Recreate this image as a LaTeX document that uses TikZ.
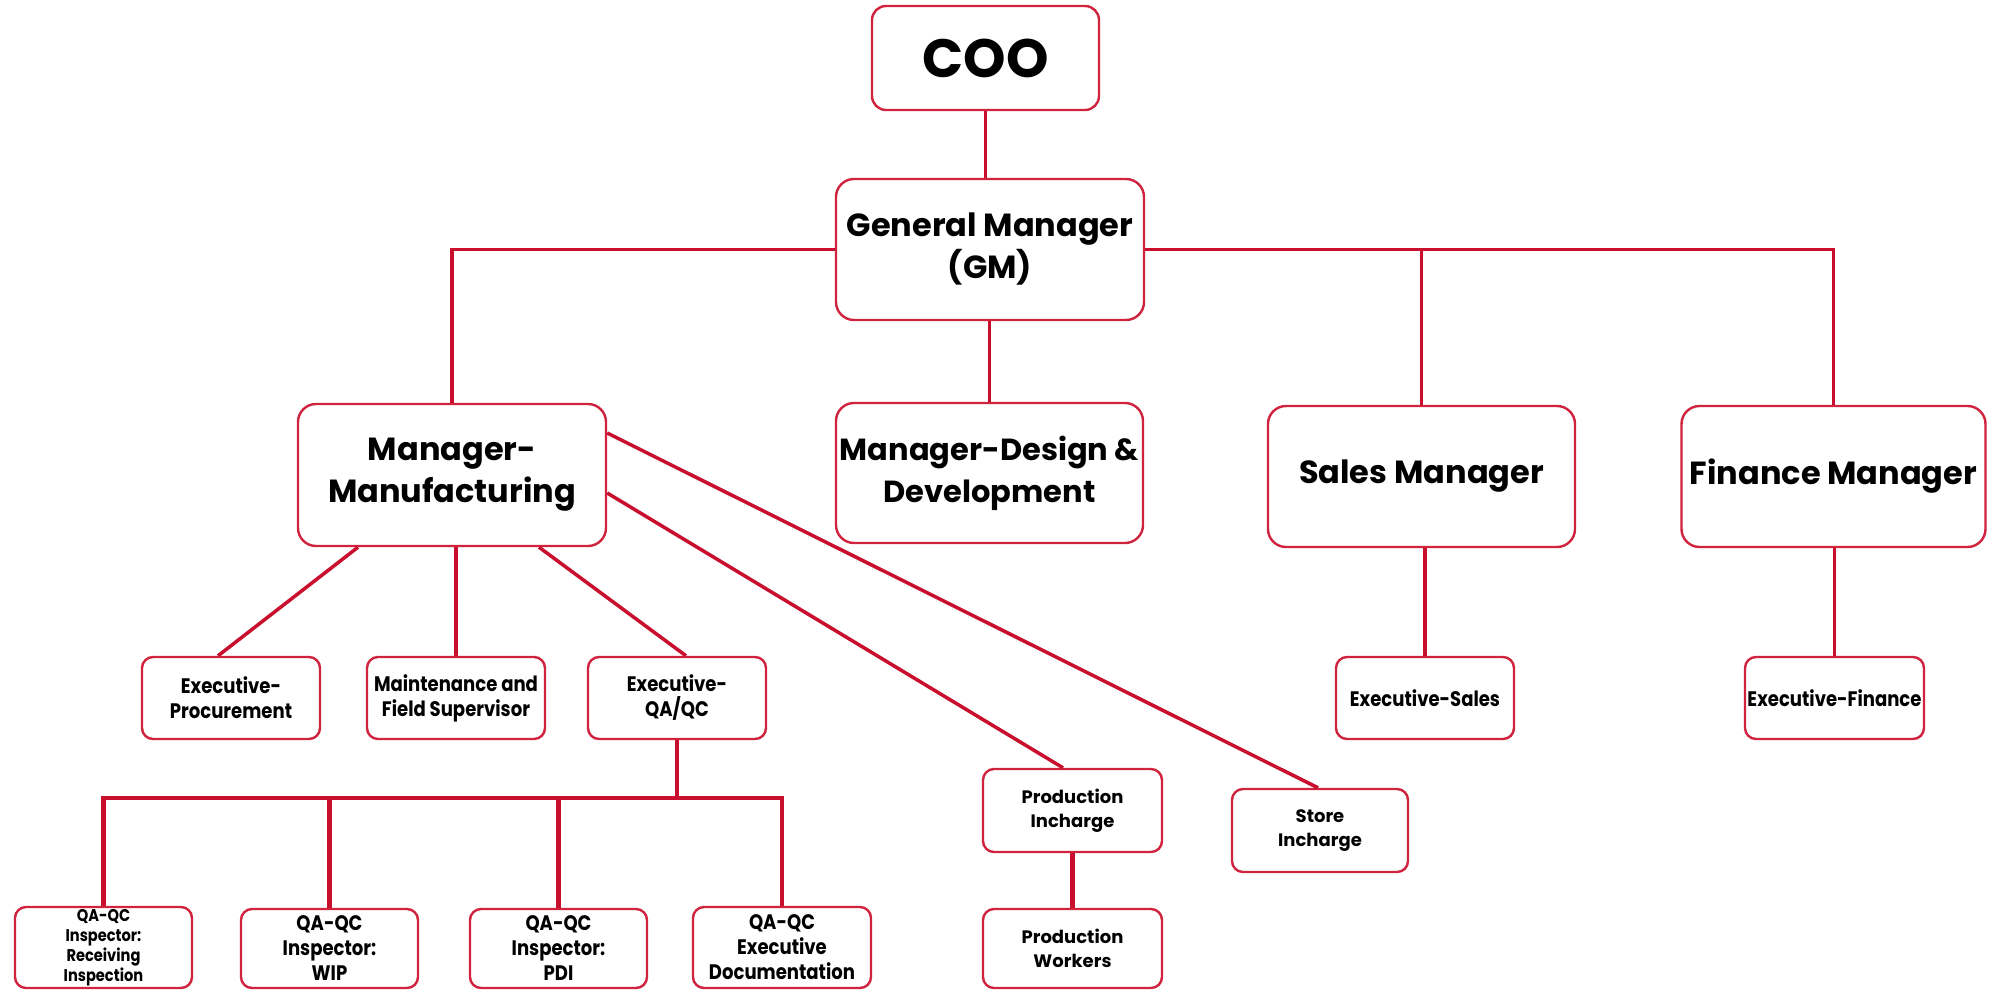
\documentclass[tikz,border=0pt]{standalone}
\usepackage{fontspec}
\setmainfont{Poppins}
\newfontfamily\condfont{Poppins}[FakeStretch=0.86]
\definecolor{lnk}{RGB}{200,16,46}
\definecolor{brd}{RGB}{208,36,62}
\begin{document}
\begin{tikzpicture}[x=1pt,y=-1pt,
  box/.style={draw=brd, line width=2.4pt, fill=white, align=center, inner sep=0pt},
  bigbox/.style={box, rounded corners=18pt, font=\bfseries\fontsize{32}{42}\selectfont},
  smallbox/.style={box, rounded corners=11pt, font=\condfont\bfseries\fontsize{21}{25}\selectfont},
  midbox/.style={box, rounded corners=11pt, font=\bfseries\fontsize{18}{24}\selectfont},
  tinybox/.style={box, rounded corners=11pt, font=\condfont\bfseries\fontsize{17}{20}\selectfont},
  link/.style={draw=lnk, line width=3.5pt},
  bus/.style={draw=lnk, line width=4.5pt}]
\useasboundingbox (0,0) rectangle (1989,990);
\fill[white] (0,0) rectangle (1989,990);

% boxes
\node[bigbox, minimum width=227pt, minimum height=104pt, rounded corners=14pt, font=\bfseries\fontsize{54}{60}\selectfont] (coo) at (985.5,58) {COO};
\node[bigbox, minimum width=308pt, minimum height=141pt] (gm) at (990,249.5) {General Manager\\(GM)};
\node[bigbox, minimum width=308pt, minimum height=142pt] (mfg) at (452,475) {Manager-\\Manufacturing};
\node[bigbox, minimum width=307pt, minimum height=140pt, font=\bfseries\fontsize{30.5}{42}\selectfont] (dd) at (989.5,473) {Manager-Design \&\\Development};
\node[bigbox, minimum width=307pt, minimum height=141pt] (sales) at (1421.5,476.5) {Sales Manager};
\node[bigbox, minimum width=304pt, minimum height=141pt] (fin) at (1833.5,476.5) {Finance Manager};

\node[smallbox, minimum width=178pt, minimum height=82pt] (proc) at (231,698) {Executive-\\Procurement};
\node[smallbox, minimum width=178pt, minimum height=82pt] (maint) at (456,698) {Maintenance and\\Field Supervisor};
\node[smallbox, minimum width=178pt, minimum height=82pt] (qaqc) at (677,698) {Executive-\\QA/QC};
\node[smallbox, minimum width=178pt, minimum height=82pt] (exs) at (1425,698) {Executive-Sales};
\node[smallbox, minimum width=179pt, minimum height=82pt] (exf) at (1834.5,698) {Executive-Finance};

\node[midbox, minimum width=179pt, minimum height=83pt] (pinc) at (1072.5,810.5) {Production\\Incharge};
\node[midbox, minimum width=176pt, minimum height=83pt] (store) at (1320,830.5) {Store\\Incharge};
\node[midbox, minimum width=179pt, minimum height=79pt] (pw) at (1072.5,948.5) {Production\\Workers};

\node[tinybox, minimum width=177pt, minimum height=81pt] (recv) at (103.5,947.5) {QA-QC\\Inspector:\\Receiving\\Inspection};
\node[smallbox, minimum width=177pt, minimum height=79pt] (wip) at (329.5,948.5) {QA-QC\\Inspector:\\WIP};
\node[smallbox, minimum width=177pt, minimum height=79pt] (pdi) at (558.5,948.5) {QA-QC\\Inspector:\\PDI};
\node[smallbox, minimum width=178pt, minimum height=81pt] (doc) at (782,947.5) {QA-QC\\Executive\\Documentation};

% connectors
\coordinate (qb) at (677,798);
\draw[link] (coo.south) -- (coo.south |- gm.north);
\draw[link] (gm.west) -| (mfg.north);
\draw[link] (gm.east) -| (fin.north);
\draw[link] (sales.north) -- (sales.north |- gm.east);
\draw[link] (dd.north |- gm.south) -- (dd.north);

\draw[link] ([xshift=-94pt]mfg.south) -- ([xshift=-13pt]proc.north);
\draw[link] (maint.north |- mfg.south) -- (maint.north);
\draw[link] ([xshift=87pt]mfg.south) -- ([xshift=9pt]qaqc.north);
\draw[link] ([yshift=-18pt]mfg.east) -- ([xshift=-9.5pt]pinc.north);
\draw[link] ([yshift=42pt]mfg.east) -- ([xshift=-2pt]store.north);

\draw[bus] (qaqc.south) -- (qb);
\draw[bus] (recv.north) |- (qb) -| (doc.north);
\draw[bus] (wip.north) -- (wip.north |- qb);
\draw[bus] (pdi.north) -- (pdi.north |- qb);

\draw[bus] (pinc.south) -- (pw.north);
\draw[link] (sales.south -| exs.north) -- (exs.north);
\draw[link] (exf.north |- fin.south) -- (exf.north);
\end{tikzpicture}
\end{document}
